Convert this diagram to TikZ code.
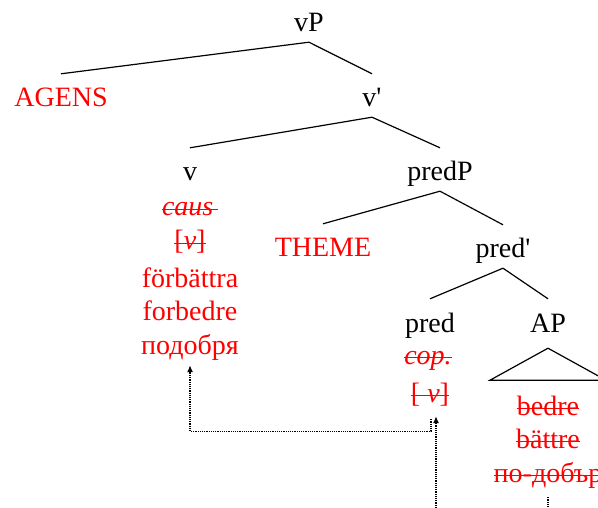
\documentclass[tikz,border=0pt]{standalone}
\usepackage{fontspec}
\setmainfont{Liberation Serif}
\usetikzlibrary{arrows.meta}

% struck-through text
\newsavebox\strikebox
\newcommand{\Strike}[1]{\sbox\strikebox{#1}\rlap{\usebox\strikebox}\rule[0.22em]{\wd\strikebox}{1pt}}

\tikzset{
	lbl/.style={inner sep=0pt, anchor=base, text height=20pt, text depth=6pt,
		font=\fontsize{28}{32}\selectfont},
	arg/.style={lbl, text=red},
	branch/.style={line width=1.2pt, black},
	move/.style={line width=1.2pt, densely dotted, -{Latex[length=7pt,width=6pt]}}
}
\newcommand{\Branch}[2]{\draw[branch] ([yshift=-4pt]#1.south) -- ([yshift=13pt]#2.north);}

\begin{document}
\begin{tikzpicture}[x=1pt, y=-1pt]
	\useasboundingbox (0,0) rectangle (598,508);
	%\draw[help lines] (0,0) grid[step=50] (598,508);
	
	% tree
	\node[lbl] (vP)    at (309,32)  {vP};
	\node[arg] (agens) at (61,107)  {AGENS};
	\node[lbl] (v1)    at (372,107) {v\textquotesingle};
	\node[lbl] (v)     at (190,181) {v};
	\node[lbl] (predP) at (440,181) {predP};
	\node[arg] (theme) at (323,257) {THEME};
	\node[lbl] (pred1) at (503,258) {pred\textquotesingle};
	\node[lbl] (pred)  at (430,332) {pred};
	\node[lbl] (AP)    at (548,332) {AP};
	
	\Branch{vP}{agens}
	\Branch{vP}{v1}
	\Branch{v1}{v}
	\Branch{v1}{predP}
	\Branch{predP}{theme}
	\Branch{predP}{pred1}
	\Branch{pred1}{pred}
	\Branch{pred1}{AP}
	\draw[branch] ([yshift=-10pt]AP.south) -- ++(-58,32) -- ++(116,0) -- cycle;
	
	% v column
	\node[arg] (vcaus) at (190,216) {\Strike{\textit{caus}\,}};
	\node[arg] (vfeat) at (190,250) {\Strike{[\textit{v}]}};
	\node[arg] (vsv)   at (190,288) {förbättra};
	\node[arg] (vda)   at (190,320) {forbedre};
	\node[arg] (vbg)   at (190,355) {подобря};
	
	% pred column
	\node[arg] (pcop)  at (428,364) {\Strike{\textit{cop.}}};
	\node[arg] (pfeat) at (430,402) {\Strike{[\ \textit{v}]}};
	
	% AP content
	\node[arg] (ada)   at (548,415) {\Strike{bedre}};
	\node[arg] (asv)   at (548,448) {\Strike{bättre}};
	\node[arg] (abg)   at (548,482) {\Strike{по-добър}};
	
	% movement
	\coordinate (trace) at (436,508);
	\coordinate (apend) at (548,508);
	\draw[move] (trace) -- ([xshift=6pt,yshift=-8pt]pfeat.south);
	\draw[move] ([xshift=1pt,yshift=-11pt]pfeat.south) -- ++(0,12) -| ([yshift=-4pt]vbg.south);
	\draw[move, -] ([yshift=-9pt]abg.south) -- (apend);
\end{tikzpicture}
\end{document}
